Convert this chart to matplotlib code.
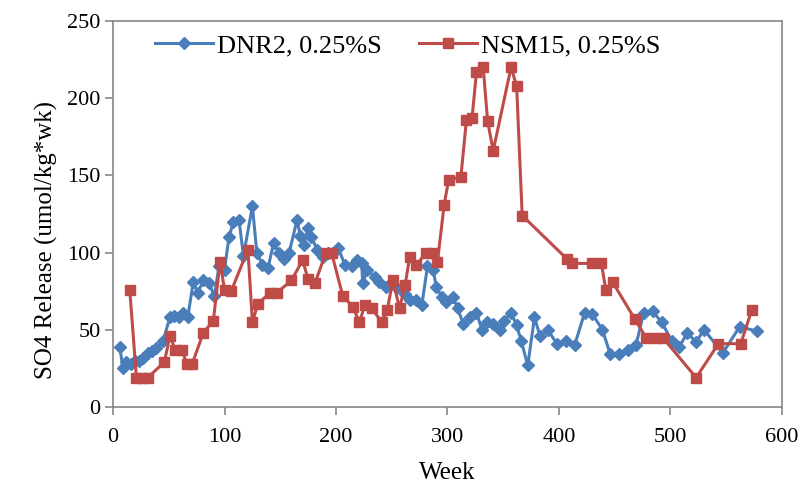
import numpy as np
import matplotlib.pyplot as plt

plt.rcParams['font.family'] = ['Liberation Serif', 'DejaVu Serif']

# DNR2, 0.25%S
dnr_wk = [6, 9, 12, 16, 20, 23, 27, 31, 35, 39, 45, 51, 55, 59, 63, 67, 72, 76, 81, 86,
          91, 95, 100, 104, 108, 113, 117, 125, 129, 134, 139, 144, 149, 153, 158, 165, 168, 171, 175, 178,
          183, 188, 193, 197, 202, 208, 214, 219, 223, 224, 228, 235, 239, 245, 250, 255, 262, 266, 272, 277,
          282, 287, 290, 295, 299, 305, 309, 314, 320, 326, 331, 335, 341, 347, 351, 357, 362, 366, 372, 378,
          383, 390, 398, 406, 414, 423, 430, 439, 446, 454, 462, 469, 476, 484, 492, 501, 508, 515, 523, 530,
          547, 562, 578]
dnr_val = [39, 25, 29, 28, 30, 30, 32, 35, 36, 38, 43, 58, 59, 58, 61, 58, 81, 74, 82, 80,
           72, 91, 89, 110, 120, 121, 98, 130, 100, 92, 90, 106, 100, 96, 100, 121, 111, 105, 116, 110,
           102, 97, 100, 100, 103, 92, 91, 95, 93, 80, 89, 84, 81, 78, 81, 77, 73, 69, 69, 66,
           91, 89, 78, 71, 68, 71, 64, 54, 58, 61, 50, 55, 54, 50, 56, 61, 53, 43, 27, 58,
           46, 50, 41, 43, 40, 61, 60, 50, 34, 34, 37, 40, 61, 62, 55, 43, 39, 48, 42, 50,
           35, 52, 49]

# NSM15, 0.25%S
nsm_wk = [15, 21, 26, 31, 46, 51, 56, 62, 66, 71, 81, 90, 96, 100, 106, 121, 125, 130, 141, 147,
          160, 170, 175, 181, 191, 196, 206, 215, 221, 226, 232, 241, 246, 251, 257, 262, 266, 272, 281, 287,
          291, 297, 301, 312, 317, 322, 326, 332, 336, 341, 357, 362, 367, 407, 412, 430, 438, 442, 448, 468,
          478, 486, 493, 523, 543, 563, 573]
nsm_val = [76, 19, 19, 19, 29, 46, 37, 37, 28, 28, 48, 56, 94, 76, 75, 102, 55, 67, 74, 74,
           82, 95, 83, 80, 100, 100, 72, 65, 55, 66, 64, 55, 63, 82, 64, 79, 97, 92, 100, 100,
           94, 131, 147, 149, 186, 187, 217, 220, 185, 166, 220, 208, 124, 96, 93, 93, 93, 76, 81, 57,
           45, 45, 45, 19, 41, 41, 63]

fig = plt.figure(figsize=(8.09, 4.88), dpi=100)
ax = fig.add_axes([0.1397, 0.166, 0.8269, 0.791])

ax.plot(dnr_wk, dnr_val, color='#4A7EBB', lw=2.2, marker='D', ms=6.5,
        label='DNR2, 0.25%S')
ax.plot(nsm_wk, nsm_val, color='#BE4B48', lw=2.2, marker='s', ms=7.5,
        label='NSM15, 0.25%S')

ax.set_xlim(0, 600)
ax.set_ylim(0, 250)
ax.set_xticks(np.arange(0, 601, 100))
ax.set_yticks(np.arange(0, 251, 50))
for s in ax.spines.values():
    s.set_color('#868686')
    s.set_linewidth(1.2)
ax.tick_params(direction='out', length=6, width=1.2, color='#868686',
               labelsize=16)
ax.tick_params(axis='x', pad=9)
ax.tick_params(axis='y', pad=3)
ax.set_xlabel('Week', fontsize=18)
ax.set_ylabel('SO4 Release (umol/kg*wk)', fontsize=18)
ax.xaxis.set_label_coords(0.5, -0.143)
ax.yaxis.set_label_coords(-0.082, 0.433)

ax.legend(loc='center', bbox_to_anchor=(0.44, 0.936), ncol=2, frameon=False,
          fontsize=19, handlelength=2.2, columnspacing=1.4, handletextpad=0.15,
          borderaxespad=0)

fig.savefig('out.png', dpi=100)
